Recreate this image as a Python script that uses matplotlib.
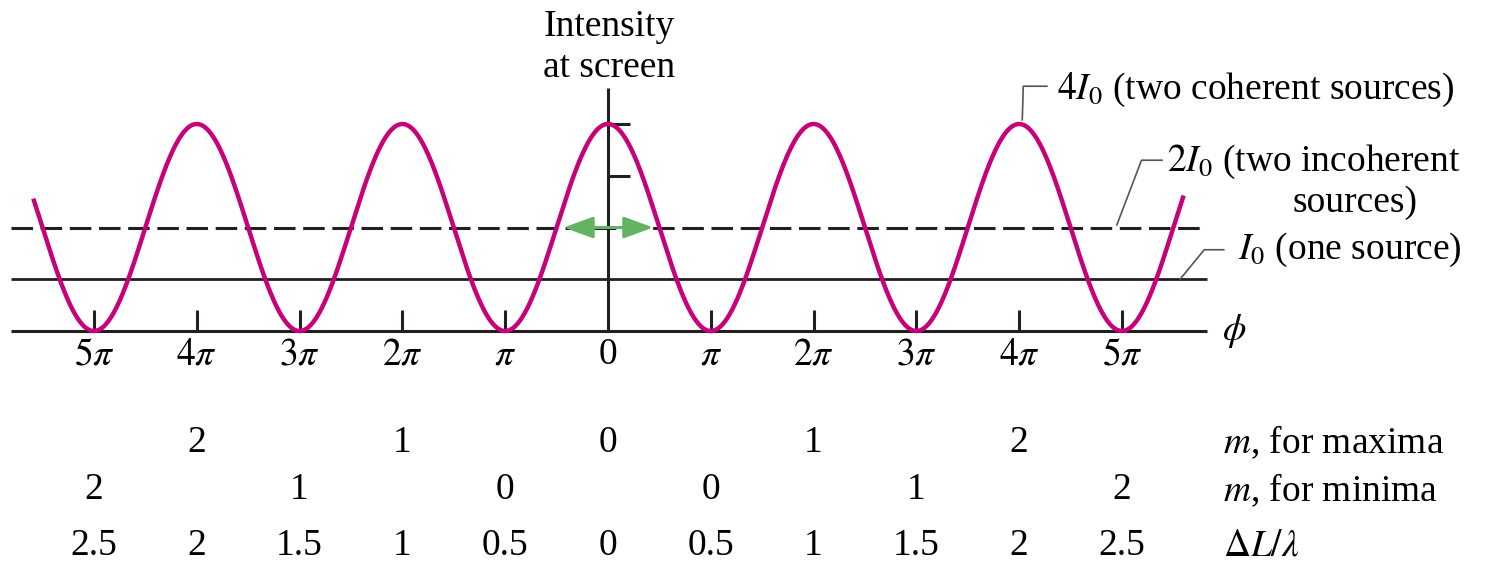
import numpy as np
import matplotlib
matplotlib.use("Agg")
import matplotlib.pyplot as plt

# ---- data ----
phase_ticks = [-5, -4, -3, -2, -1, 0, 1, 2, 3, 4, 5]          # in units of pi
phase_labels = [r"$5\pi$", r"$4\pi$", r"$3\pi$", r"$2\pi$", r"$\pi$", "0",
                r"$\pi$", r"$2\pi$", r"$3\pi$", r"$4\pi$", r"$5\pi$"]
max_pos = [-4, -2, 0, 2, 4]
max_m = ["2", "1", "0", "1", "2"]
min_pos = [-5, -3, -1, 1, 3, 5]
min_m = ["2", "1", "0", "0", "1", "2"]
path_diff = ["2.5", "2", "1.5", "1", "0.5", "0", "0.5", "1", "1.5", "2", "2.5"]
I0 = 1.0
level_one = 1 * I0      # one source
level_incoh = 2 * I0    # two incoherent sources
level_coh = 4 * I0      # two coherent sources
phi_start, phi_end = -5.59, 5.60   # range of the drawn curve (units of pi)

# ---- style ----
plt.rcParams['font.family'] = ['Liberation Serif', 'DejaVu Serif']
plt.rcParams['mathtext.fontset'] = 'stix'
plt.rcParams['lines.scale_dashes'] = False
INK = '#231f20'
PINK = '#c8007a'
GREEN = '#62b462'
GREY = '#555555'
FS = 27

fig = plt.figure(figsize=(15.12, 5.64), dpi=100)
ax = fig.add_axes([0, 0, 1, 1])
ax.set_xlim(-5.914, 8.794)
ax.set_ylim(-4.502, 6.396)
ax.axis('off')

x_left, x_right = -5.807, 5.827

# axes lines
ax.plot([x_left, x_right], [0, 0], color=INK, lw=2.2, solid_capstyle='butt')
ax.plot([x_left, x_right], [level_one, level_one], color=INK, lw=2.0, solid_capstyle='butt')
ax.plot([x_left, 5.79], [level_incoh, level_incoh], color=INK, lw=2.2,
        dashes=(15.5, 5.5), dash_capstyle='butt')
ax.plot([0, 0], [0, 4.70], color=INK, lw=2.2, solid_capstyle='butt')
for yv in (level_coh, 3 * I0):
    ax.plot([0, 0.214], [yv, yv], color=INK, lw=2.2, solid_capstyle='butt')
for t in phase_ticks:
    if t != 0:
        ax.plot([t, t], [0, 0.41], color=INK, lw=2.2, solid_capstyle='butt')

# intensity curve
phi = np.linspace(phi_start, phi_end, 1500)
ax.plot(phi, level_coh * np.cos(np.pi * phi / 2) ** 2, color=PINK, lw=3.2,
        solid_capstyle='butt', zorder=5)

# green double arrow
ax.annotate('', xy=(-0.43, level_incoh), xytext=(0.44, level_incoh),
            arrowprops=dict(arrowstyle='<|-|>,head_length=0.6,head_width=0.22',
                            color=GREEN, lw=2.2, mutation_scale=30,
                            shrinkA=0, shrinkB=0), zorder=6)

# axis labels
ax.text(0.01, 5.87, "Intensity", ha='center', va='center', fontsize=FS)
ax.text(0.01, 5.08, "at screen", ha='center', va='center', fontsize=FS)
ax.text(5.973, 0.0, r"$\phi$", ha='left', va='center', fontsize=FS)

for t, lab in zip(phase_ticks, phase_labels):
    ax.text(t, -0.46, lab, ha='center', va='center', fontsize=FS)

# leader lines and labels
ax.plot([4.03, 4.04, 4.27], [4.08, 4.73, 4.73], color=GREY, lw=1.2)
ax.text(4.37, 4.66, r"$4I_0$ (two coherent sources)", ha='left', va='center', fontsize=FS)
ax.plot([4.95, 5.19, 5.39], [2.05, 3.30, 3.30], color=GREY, lw=1.2)
ax.text(5.44, 3.27, r"$2I_0$ (two incoherent", ha='left', va='center', fontsize=FS)
ax.text(7.27, 2.47, "sources)", ha='center', va='center', fontsize=FS)
ax.plot([5.565, 5.80, 5.99], [1.0, 1.57, 1.57], color=GREY, lw=1.2)
ax.text(6.13, 1.57, r"$I_0$ (one source)", ha='left', va='center', fontsize=FS)

# rows below
for p, lab in zip(max_pos, max_m):
    ax.text(p, -2.16, lab, ha='center', va='center', fontsize=FS)
for p, lab in zip(min_pos, min_m):
    ax.text(p, -3.07, lab, ha='center', va='center', fontsize=FS)
for p, lab in zip(phase_ticks, path_diff):
    ax.text(p, -4.15, lab, ha='center', va='center', fontsize=FS)
ax.text(5.98, -2.16, r"$m$, for maxima", ha='left', va='center', fontsize=FS)
ax.text(5.98, -3.07, r"$m$, for minima", ha='left', va='center', fontsize=FS)
ax.text(5.98, -4.15, r"$\Delta L/\lambda$", ha='left', va='center', fontsize=FS)

fig.savefig("out.png", dpi=100)
